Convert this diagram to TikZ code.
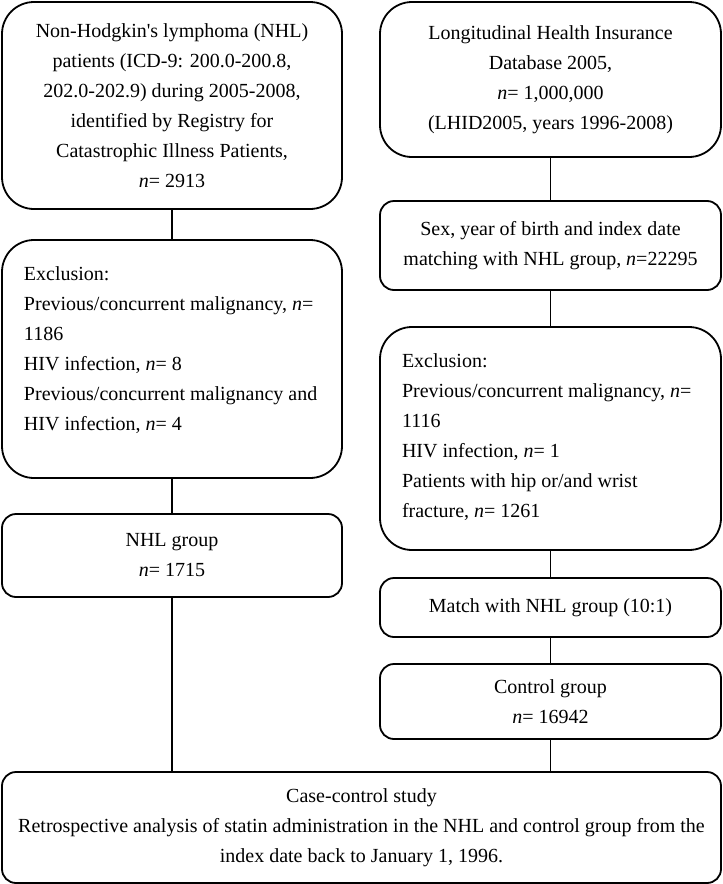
\documentclass[tikz,border=0pt]{standalone}
\usepackage{fontspec}
\setmainfont{Liberation Serif}
\usetikzlibrary{positioning}

\begin{document}
\begin{tikzpicture}[x=0.5pt,y=-0.5pt,line width=0.9pt]
	\tikzstyle{box}=[draw, rounded corners=7pt, minimum width=170pt, align=center, inner sep=0pt, font=\fontsize{10}{15}\selectfont]
	\tikzstyle{bigbox}=[box, rounded corners=16pt]
	\tikzstyle{exclbox}=[bigbox, inner xsep=11pt, inner ysep=13.5pt]
	
	\useasboundingbox (0,0) rectangle (723,884);
	
	% left column
	\node[bigbox, minimum height=103.5pt] (nhl) at (172,105.5) {Non-Hodgkin\textquotesingle s lymphoma (NHL)\\patients (ICD-9: 200.0-200.8,\\202.0-202.9) during 2005-2008,\\identified by Registry for\\Catastrophic Illness Patients,\\\textit{n}= 2913};
	\node[exclbox, minimum height=119pt] (exclL) at (172,359) {\parbox[c][92pt][t]{148pt}{\raggedright Exclusion:\\Previous/concurrent malignancy, \textit{n}=\\1186\\HIV infection, \textit{n}= 8\\Previous/concurrent malignancy and\\HIV infection, \textit{n}= 4}};
	\node[box, minimum height=41.5pt] (nhlgrp) at (172,555.5) {NHL group\\\textit{n}= 1715};
	
	% right column
	\node[bigbox, minimum width=170.5pt, minimum height=77.5pt] (lhid) at (550.5,79.5) {Longitudinal Health Insurance\\Database 2005,\\\textit{n}= 1,000,000\\(LHID2005, years 1996-2008)};
	\node[box, minimum width=170.5pt, minimum height=44.5pt] (match) at (550.5,245.5) {Sex, year of birth and index date\\matching with NHL group, \textit{n}=22295};
	\node[exclbox, minimum width=170.5pt, minimum height=111.5pt] (exclR) at (550.5,438.5) {\parbox[c][84.5pt][t]{148.5pt}{\raggedright Exclusion:\\Previous/concurrent malignancy, \textit{n}=\\1116\\HIV infection, \textit{n}= 1\\Patients with hip or/and wrist\\fracture, \textit{n}= 1261}};
	\node[box, minimum width=170.5pt, minimum height=29.5pt] (ratio) at (550.5,607.5) {Match with NHL group (10:1)};
	\node[box, minimum width=170.5pt, minimum height=37.5pt] (ctrlgrp) at (550.5,701.5) {Control group\\\textit{n}= 16942};
	
	% bottom
	\node[box, minimum width=359.5pt, minimum height=55.5pt] (study) at (361.5,827.5) {Case-control study\\Retrospective analysis of statin administration in the NHL and control group from the\\index date back to January 1, 1996.};
	
	\path[draw]
	(nhl) edge (exclL)
	(exclL) edge (nhlgrp)
	(lhid) edge (match)
	(match) edge (exclR)
	(exclR) edge (ratio)
	(ratio) edge (ctrlgrp);
	\draw (nhlgrp.south) -- (nhlgrp.south |- study.north);
	\draw (ctrlgrp.south) -- (ctrlgrp.south |- study.north);
\end{tikzpicture}
\end{document}
